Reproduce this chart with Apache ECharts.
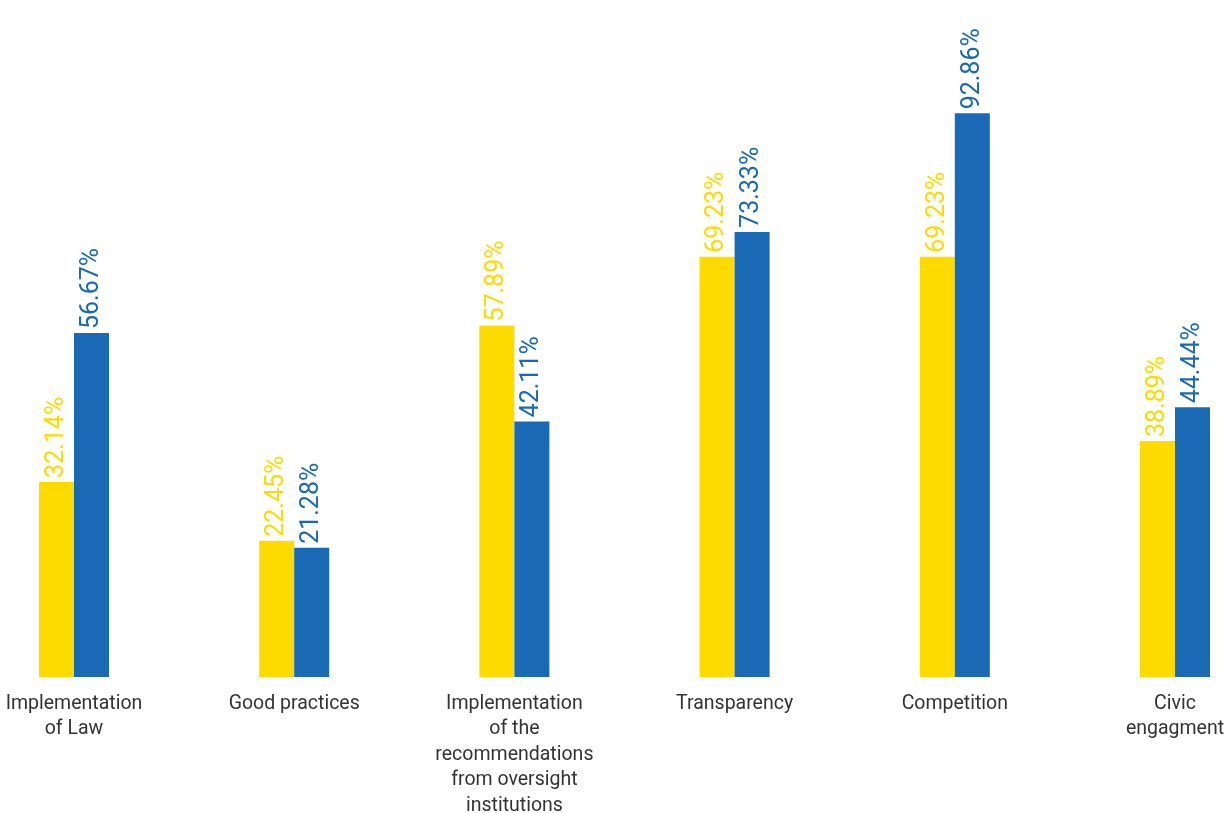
<!DOCTYPE html>
<html>
<head>
<meta charset="utf-8">
<script src="https://cdn.jsdelivr.net/npm/echarts@6/dist/echarts.min.js"></script>
<style>
  html, body { margin: 0; padding: 0; background: #fff; }
  #chart { width: 1227px; height: 813px; }
</style>
</head>
<body>
<div id="chart"></div>
<script>
// Categories and the two compared series (percentages)
const categories = [
  'Implementation\nof Law',
  'Good practices',
  'Implementation\nof the\nrecommendations\nfrom oversight\ninstitutions',
  'Transparency',
  'Competition',
  'Civic\nengagment'
];
const seriesYellow = [32.14, 22.45, 57.89, 69.23, 69.23, 38.89];
const seriesBlue = [56.67, 21.28, 42.11, 73.33, 92.86, 44.44];

const YELLOW = '#FDDA00';
const BLUE = '#1A69B4';
const FONT = 'Roboto, "Noto Sans", sans-serif';

function labelCfg(color) {
  return {
    show: true,
    position: 'top',
    distance: 4,
    rotate: 90,
    align: 'left',
    verticalAlign: 'middle',
    color: color,
    fontFamily: FONT,
    fontSize: 25,
    formatter: p => p.value.toFixed(2) + '%'
  };
}

const chart = echarts.init(document.getElementById('chart'));
chart.setOption({
  animation: false,
  grid: { left: 74, right: 52, top: 70, bottom: 136, outerBoundsMode: 'none' },
  xAxis: {
    type: 'category',
    data: categories,
    boundaryGap: false,
    axisLine: { show: false },
    axisTick: { show: false },
    axisLabel: {
      interval: 0,
      margin: 14,
      color: '#333',
      fontFamily: FONT,
      fontSize: 19.5,
      lineHeight: 25.5,
      verticalAlign: 'top'
    }
  },
  yAxis: {
    type: 'value',
    min: 0,
    max: 100,
    show: false,
    splitLine: { show: false }
  },
  series: [
    {
      type: 'bar',
      data: seriesYellow,
      barWidth: 35,
      barGap: '0%',
      itemStyle: { color: YELLOW },
      label: labelCfg(YELLOW)
    },
    {
      type: 'bar',
      data: seriesBlue,
      barWidth: 35,
      barGap: '0%',
      itemStyle: { color: BLUE },
      label: labelCfg(BLUE)
    }
  ]
});
</script>
</body>
</html>
